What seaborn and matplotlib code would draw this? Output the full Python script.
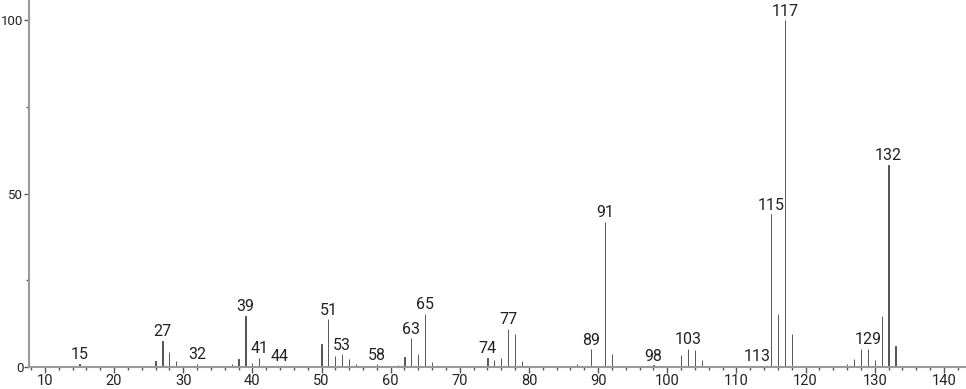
import matplotlib
matplotlib.use("Agg")
import matplotlib.pyplot as plt
from matplotlib.ticker import MultipleLocator
import seaborn as sns
import pandas as pd

mz = [15, 26, 27, 28, 29, 32, 37, 38, 39, 40, 41, 42, 44, 50, 51, 52, 53, 54, 55, 56,
      58, 61, 62, 63, 64, 65, 66, 67, 73, 74, 75, 76, 77, 78, 79, 86, 87, 88, 89, 90,
      91, 92, 93, 98, 102, 103, 104, 105, 106, 113, 115, 116, 117, 118, 119, 126, 127,
      128, 129, 130, 131, 132, 133, 134]
intensity = [1.0, 1.7, 7.5, 4.3, 1.6, 0.9, 0.8, 2.2, 14.7, 1.1, 2.6, 0.4, 0.4, 6.6, 13.7,
             3.3, 3.7, 2.2, 0.9, 0.3, 0.8, 0.7, 2.9, 8.3, 3.7, 15.4, 1.3, 0.3, 0.3, 2.7,
             2.0, 2.7, 11.0, 9.6, 1.8, 0.3, 0.8, 0.3, 5.1, 0.3, 41.8, 3.7, 0.4, 0.5, 3.4,
             5.3, 4.8, 1.9, 0.3, 0.3, 44.1, 15.4, 100.0, 9.4, 0.3, 0.8, 2.3, 5.1, 5.3,
             2.0, 14.8, 58.3, 6.1, 0.3]
labeled = [15, 27, 32, 39, 41, 44, 51, 53, 58, 63, 65, 74, 77, 89, 91, 98, 103, 113,
           115, 117, 129, 132]
x_ticks = [10, 20, 30, 40, 50, 60, 70, 80, 90, 100, 110, 120, 130, 140]
y_ticks = [0, 50, 100]

df = pd.DataFrame({"mz": mz, "intensity": intensity})

sns.set_style("white")
plt.rcParams["font.family"] = ["Roboto", "DejaVu Sans"]

fig = plt.figure(figsize=(9.66, 3.89), dpi=100)
ax = fig.add_axes([29 / 966, 22 / 389, 937 / 966, 367 / 389])

sns.barplot(data=df, x="mz", y="intensity", native_scale=True, width=0.02,
            color="#555555", edgecolor="#555555", linewidth=0.7, saturation=1, ax=ax)

lookup = dict(zip(mz, intensity))
for m in labeled:
    ax.text(m, lookup[m] + 1.3, str(m), ha="center", va="baseline",
            fontsize=11.5, color="#222222")

ax.set_xlim(7.7, 143.2)
ax.set_ylim(0, 105.8)
ax.set_xticks(x_ticks)
ax.set_yticks(y_ticks)
ax.xaxis.set_minor_locator(MultipleLocator(2))
ax.yaxis.set_minor_locator(MultipleLocator(25))
ax.set_xlabel("")
ax.set_ylabel("")

for s in ["top", "right"]:
    ax.spines[s].set_visible(False)
for s in ["left", "bottom"]:
    ax.spines[s].set_color("#999999")
    ax.spines[s].set_linewidth(1.5)

ax.tick_params(axis="x", which="major", direction="out", length=4, width=1,
               color="#555555", labelsize=10.5, labelcolor="#222222", pad=1,
               bottom=True)
ax.tick_params(axis="y", which="major", direction="out", length=3.5, width=1,
               color="#555555", labelsize=9.5, labelcolor="#222222", pad=0.5,
               left=True)
ax.tick_params(axis="both", which="minor", direction="out", length=2.5, width=1,
               color="#555555", bottom=True, left=True)

fig.savefig("out.png", dpi=100)
